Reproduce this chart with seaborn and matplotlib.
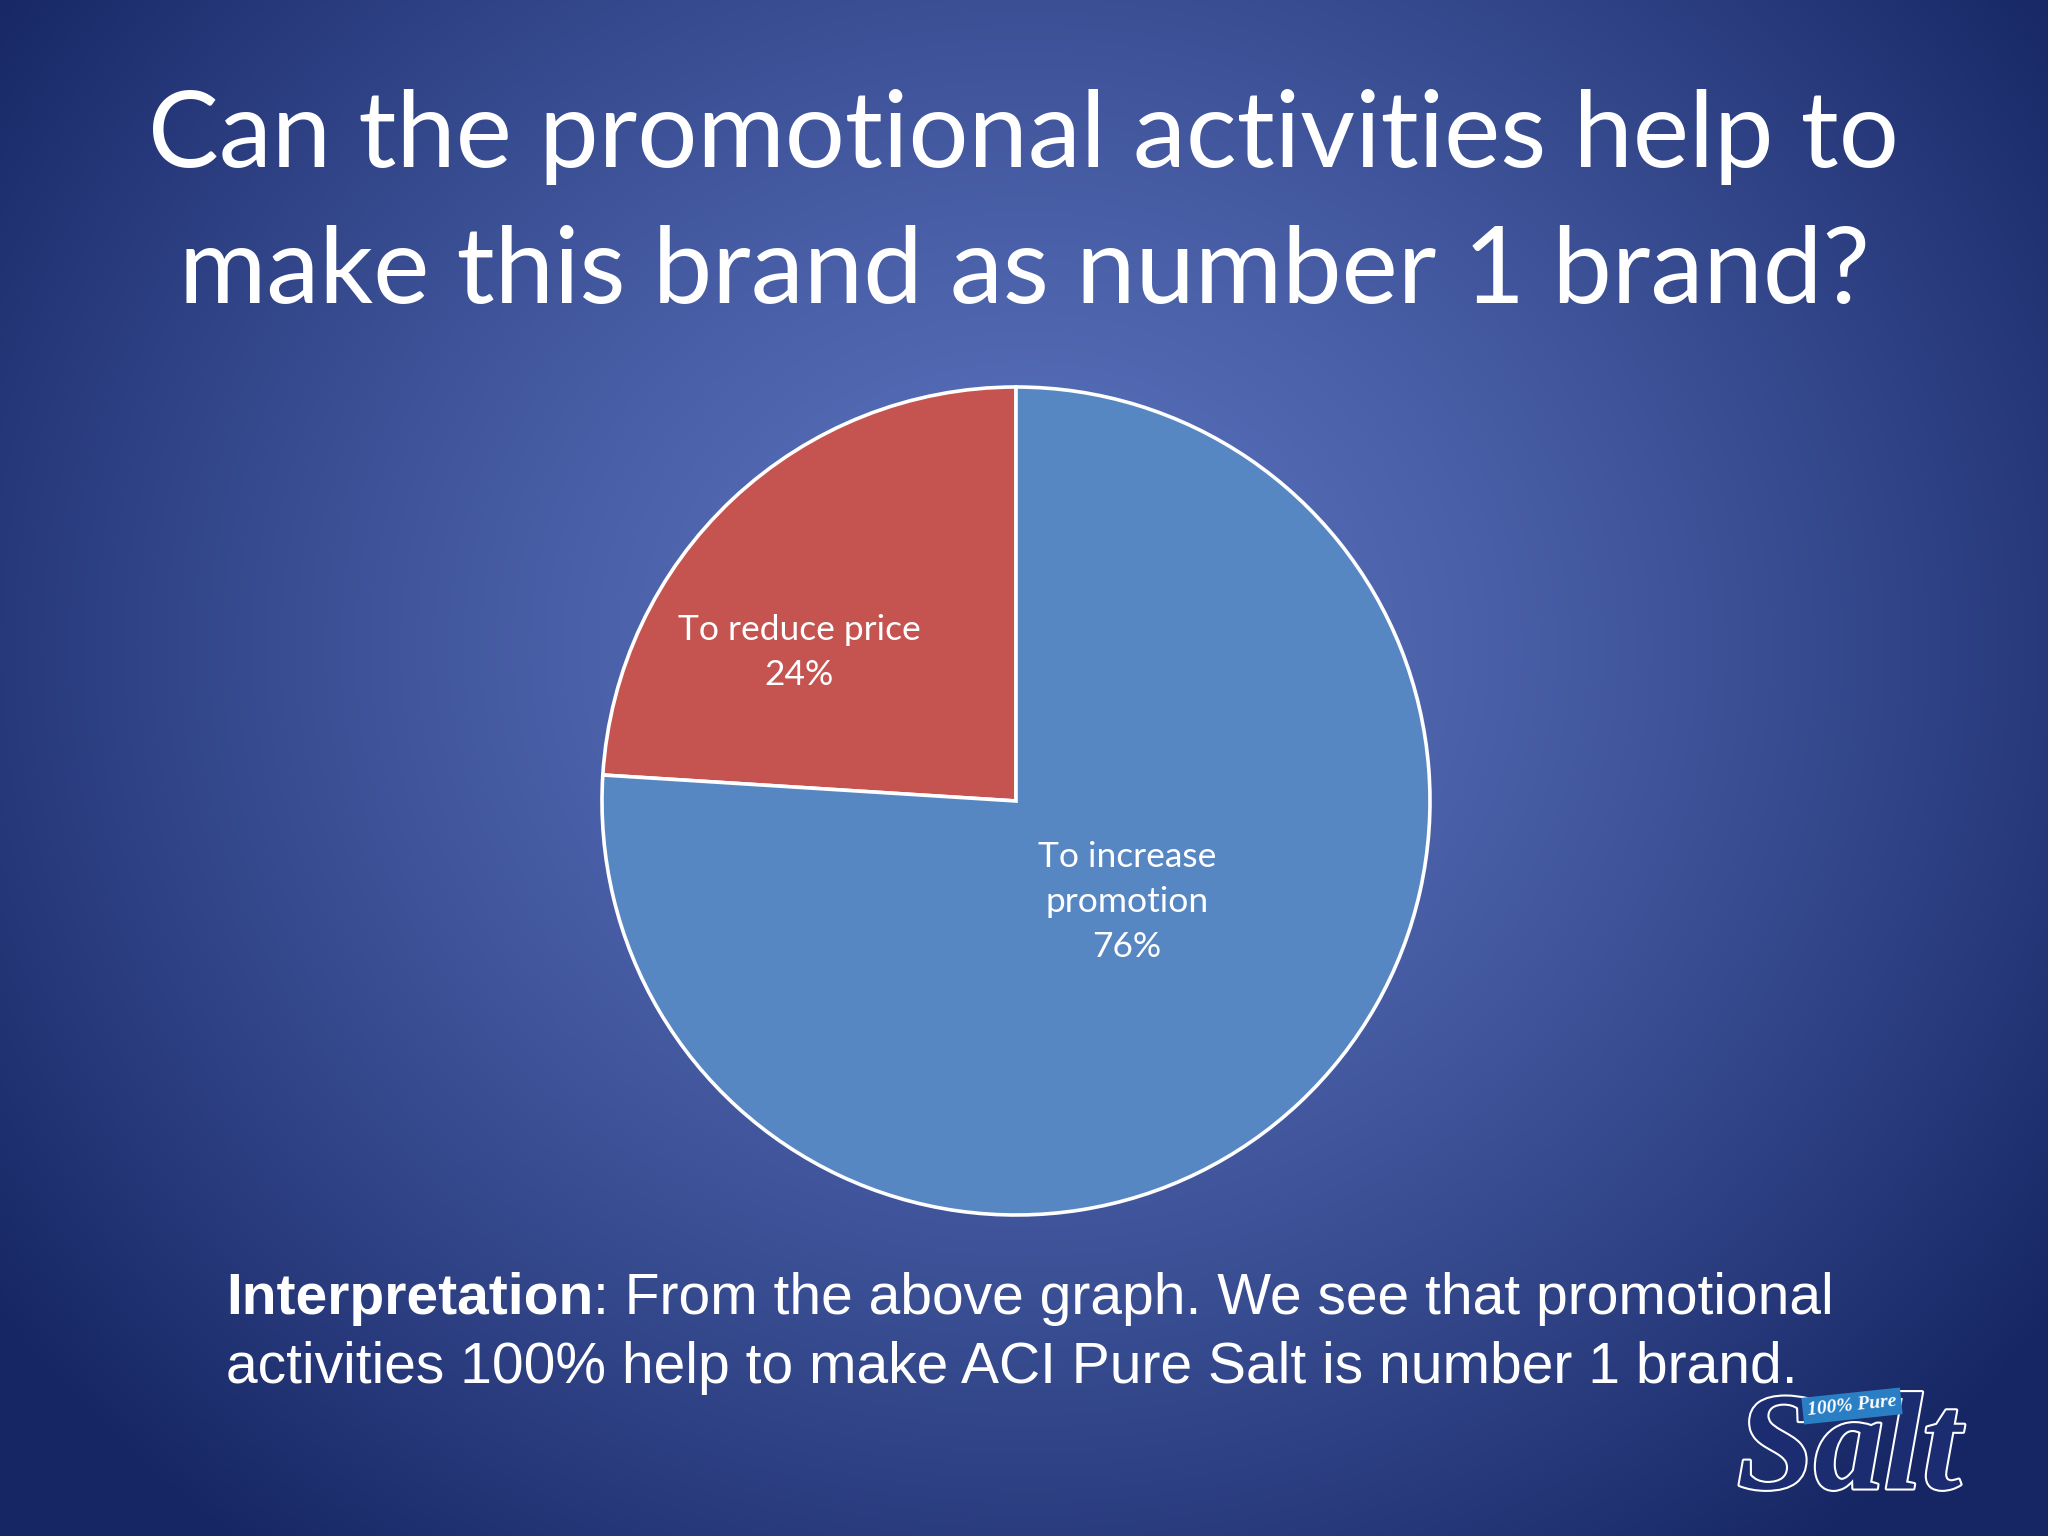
import numpy as np
import matplotlib
matplotlib.use("Agg")
import matplotlib.pyplot as plt
import matplotlib.patheffects as pe
import seaborn as sns

# ---- data ----
categories = ["To reduce price", "To increase promotion"]
values = [24, 76]
label_texts = ["To reduce price\n24%", "To increase\npromotion\n76%"]
slice_colors = ["#C55451", "#5787C2"]
title_line1 = "Can the promotional activities help to"
title_line2 = "make this brand as number 1 brand?"
interp_bold = "Interpretation"
interp_rest = ": From the above graph. We see that promotional"
interp_line2 = "activities 100% help to make ACI Pure Salt is number 1 brand."

sns.set_theme(style="white")
plt.rcParams["font.family"] = ["Lato", "DejaVu Sans"]

W, H = 20.48, 15.36
fig = plt.figure(figsize=(W, H), dpi=100)

# background radial gradient
bg = fig.add_axes([0, 0, 1, 1])
bg.set_axis_off()
ny, nx = 384, 512
yy, xx = np.mgrid[0:ny, 0:nx]
cx, cy = nx * 0.50, ny * 0.42
r = np.sqrt(((xx - cx) / (nx * 0.62)) ** 2 + ((yy - cy) / (ny * 0.75)) ** 2)
r = np.clip(r, 0, 1)
inner = np.array([92, 116, 192]) / 255.0
outer = np.array([22, 38, 100]) / 255.0
t = r ** 1.3
img = inner[None, None, :] * (1 - t[..., None]) + outer[None, None, :] * t[..., None]
bg.imshow(img, extent=[0, 1, 0, 1], aspect="auto", origin="upper", zorder=0)
bg.set_xlim(0, 1)
bg.set_ylim(0, 1)

# title
fig.text(1023 / 2048, 1 - 167 / 1536, title_line1, ha="center", va="baseline",
         color="white", fontsize=76.5, family=["Lato", "DejaVu Sans"])
fig.text(1024 / 2048, 1 - 303 / 1536, title_line2, ha="center", va="baseline",
         color="white", fontsize=76.5, family=["Lato", "DejaVu Sans"])

# pie
R_px = 414
cxp, cyp = 1016, 801
ax = fig.add_axes([(cxp - R_px) / 2048, 1 - (cyp + R_px) / 1536,
                   2 * R_px / 2048, 2 * R_px / 1536])
ax.set_axis_off()
wedges, _ = ax.pie(values, colors=slice_colors, startangle=90, counterclock=True,
                   wedgeprops=dict(edgecolor="white", linewidth=2.6), radius=1.0)
ax.set_xlim(-1.0, 1.0)
ax.set_ylim(-1.0, 1.0)
label_pos = [(-0.524, 0.358), (0.268, -0.244)]
for (lx, ly), txt in zip(label_pos, label_texts):
    ax.text(lx, ly, txt, ha="center", va="center", color="white", fontsize=25.5,
            linespacing=1.5, family=["Lato", "DejaVu Sans"])

# interpretation
x0 = 226 / 2048
y1 = 1 - 1299 / 1536
y2 = 1 - 1368 / 1536
tb = fig.text(x0, y1, interp_bold, ha="left", va="center", color="white",
              fontsize=41, fontweight="bold", family=["Liberation Sans", "DejaVu Sans"])
fig.canvas.draw()
bb = tb.get_window_extent()
fig.text(bb.x1 / fig.bbox.width, y1, interp_rest, ha="left", va="center", color="white",
         fontsize=41, family=["Liberation Sans", "DejaVu Sans"])
fig.text(x0, y2, interp_line2, ha="left", va="center", color="white",
         fontsize=41, family=["Liberation Sans", "DejaVu Sans"])

# logo
fig.text(1849 / 2048, 1 - 1455 / 1536, "Salt", ha="center", va="center",
         color="#1b2c70", fontsize=100, fontweight="bold", fontstyle="italic",
         family=["Liberation Serif", "DejaVu Serif"],
         path_effects=[pe.withStroke(linewidth=3, foreground="white")])
fig.text(1852 / 2048, 1 - 1406 / 1536, "100% Pure", ha="center", va="center",
         color="white", fontsize=14, fontweight="bold", fontstyle="italic",
         family=["Liberation Serif", "DejaVu Serif"], rotation=6,
         bbox=dict(boxstyle="square,pad=0.25", facecolor="#2a7fc4", edgecolor="none"))

fig.savefig("out.png", dpi=100)
